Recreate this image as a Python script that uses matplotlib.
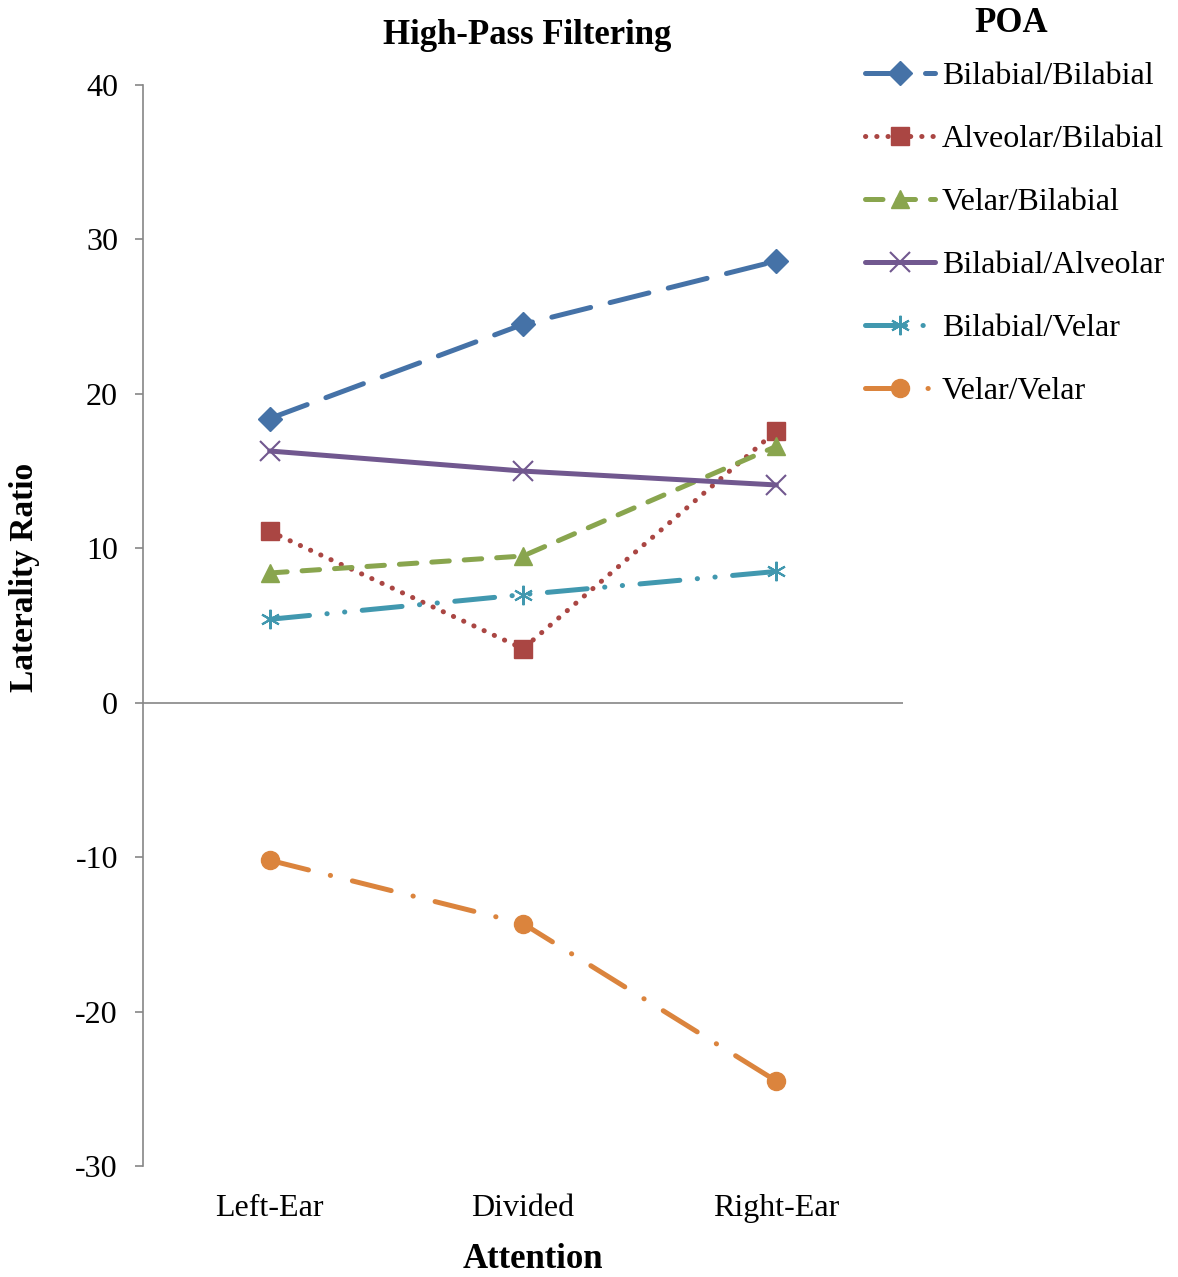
import matplotlib.pyplot as plt

plt.rcParams['font.family'] = ['Liberation Serif', 'DejaVu Serif']
plt.rcParams['axes.unicode_minus'] = False

categories = ['Left-Ear', 'Divided', 'Right-Ear']
series_names = ['Bilabial/Bilabial', 'Alveolar/Bilabial', 'Velar/Bilabial',
                'Bilabial/Alveolar', 'Bilabial/Velar', 'Velar/Velar']
bilabial_bilabial = [18.4, 24.5, 28.6]
alveolar_bilabial = [11.1, 3.5, 17.6]
velar_bilabial = [8.4, 9.5, 16.6]
bilabial_alveolar = [16.3, 15.0, 14.1]
bilabial_velar = [5.4, 7.0, 8.5]
velar_velar = [-10.2, -14.3, -24.5]
y_ticks = [-30, -20, -10, 0, 10, 20, 30, 40]

values = [bilabial_bilabial, alveolar_bilabial, velar_bilabial,
          bilabial_alveolar, bilabial_velar, velar_velar]
colors = ['#4572A7', '#AA4643', '#89A54E', '#71588F', '#4198AF', '#DB843D']
markers = ['D', 's', '^', 'x', (6, 2, 0), 'o']
msizes = [12, 13, 13, 14, 14, 13]
dashes = [(0, (8, 4)), (0, (0.05, 2.2)), (0, (3.5, 3)), '-',
          (0, (8, 3.5, 0.05, 3.5, 0.05, 3.5)), (0, (8, 4.5, 0.05, 4.5))]

W, H = 1178, 1277
fig = plt.figure(figsize=(W / 100, H / 100), dpi=100)
ax = fig.add_axes([143 / W, 1 - 1166 / H, 760 / W, 1081 / H])

x = range(len(categories))
handles = []
for name, vals, c, m, ms, ls in zip(series_names, values, colors, markers, msizes, dashes):
    mew = 1.5 if m in ('x', (6, 2, 0)) else 1
    ln, = ax.plot(x, vals, color=c, lw=3.6, linestyle=ls, marker=m, markersize=ms,
                  markeredgewidth=mew, markeredgecolor=c, markerfacecolor=c,
                  dash_capstyle='round', solid_capstyle='round', label=name)
    handles.append(ln)

ax.set_xlim(-0.5, 2.5)
ax.set_ylim(-30, 40)
ax.set_yticks(y_ticks)
ax.set_xticks(list(x))
ax.set_xticklabels(categories)
ax.axhline(0, color='#868686', lw=1.2, zorder=0)
for s in ['top', 'right', 'bottom']:
    ax.spines[s].set_visible(False)
ax.spines['left'].set_color('#868686')
ax.spines['left'].set_linewidth(1.2)
ax.tick_params(axis='y', colors='#868686', labelcolor='black', labelsize=23,
               length=6, width=1.2, pad=12)
ax.tick_params(axis='x', length=0, labelsize=23, pad=20)

fig.text(527 / W, 1 - 36 / H, 'High-Pass Filtering', fontsize=25, fontweight='bold',
         ha='center', va='center')
fig.text(25 / W, 1 - 577 / H, 'Laterality Ratio', fontsize=24, fontweight='bold',
         ha='center', va='center', rotation=90)
fig.text(533 / W, 1 - 1268 / H, 'Attention', fontsize=25, fontweight='bold',
         ha='center', va='baseline')
fig.text(1011 / W, 1 - 24 / H, 'POA', fontsize=25, fontweight='bold',
         ha='center', va='center')

leg = fig.legend(handles=handles, loc='upper left', bbox_to_anchor=(865 / W, 1 - 62 / H),
                 frameon=False, fontsize=23, handlelength=2.2, handletextpad=0.2,
                 labelspacing=1.05, borderaxespad=0, borderpad=0)

fig.savefig('out.png', dpi=100)
